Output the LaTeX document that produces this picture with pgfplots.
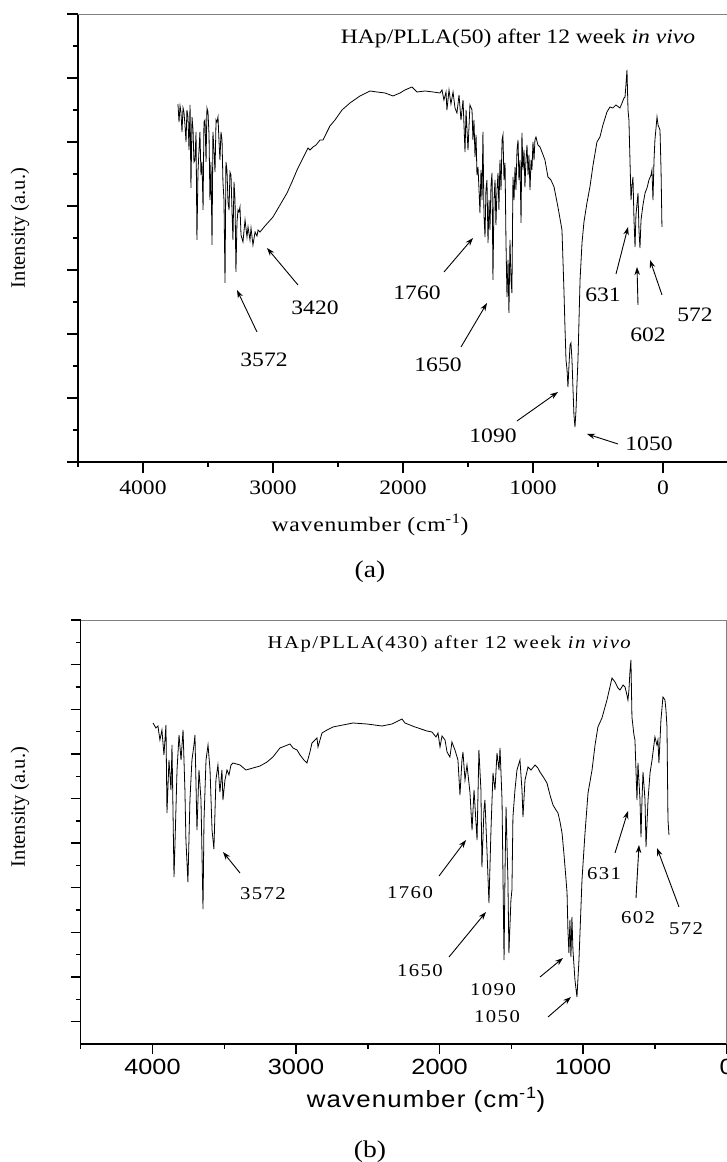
\documentclass[border=0pt]{standalone}
\usepackage{fontspec}
\setmainfont{Liberation Serif}
\usepackage{pgfplots}
\pgfplotsset{compat=1.18}
\usetikzlibrary{arrows.meta}
\newfontfamily\serifA[FakeStretch=1.15]{Liberation Serif}
\newfontfamily\serifAsp[FakeStretch=1.15,LetterSpace=4]{Liberation Serif}
\newfontfamily\serifB[FakeStretch=1.15,LetterSpace=8]{Liberation Serif}
\newfontfamily\sansB[FakeStretch=1.15]{Liberation Sans}
\newfontfamily\sansBsp[FakeStretch=1.1,LetterSpace=5]{Liberation Sans}
\newcommand\fA{\serifA\fontsize{20.5}{24}\selectfont}
\newcommand\fB{\serifB\fontsize{18}{21}\selectfont}
\begin{document}
\begin{tikzpicture}[x=1pt,y=1pt]
\useasboundingbox (0,0) rectangle (727,1162);
% ---------------- panel (a)
\begin{axis}[at={(78pt,700pt)}, anchor=south west, scale only axis,
  width=650pt, height=448pt, xmin=-500, xmax=4500, x dir=reverse,
  ymin=0, ymax=448, axis x line*=bottom, axis y line*=left, clip=false,
  axis line style={line width=1.6pt, black},
  xtick={0,1000,2000,3000,4000}, xticklabels={0,1000,2000,3000,4000},
  minor xtick={-500,500,1500,2500,3500,4500},
  ytick={0,64,128,192,256,320,384,448}, yticklabels={},
  minor ytick={32,96,160,224,288,352,416},
  tick align=outside, tick style={line width=1.4pt, black},
  major tick length=11pt, minor tick length=5pt,
  xticklabel style={font=\fA, yshift=-4pt}]
\addplot[black, line width=0.8pt] table {
3731 358
3723 340
3715 356
3708 350
3700 330
3692 354
3685 350
3677 337
3669 320
3662 352
3654 345
3646 312
3638 357
3631 274
3623 345
3615 332
3608 300
3600 302
3592 330
3585 222
3577 290
3569 312
3562 330
3554 287
3546 300
3538 252
3531 340
3523 342
3515 300
3508 354
3500 350
3492 327
3485 262
3477 300
3469 217
3462 330
3454 312
3446 290
3438 342
3431 340
3423 345
3415 320
3408 302
3400 330
3392 322
3385 280
3377 262
3369 179
3362 300
3354 292
3346 260
3338 252
3331 290
3323 287
3315 250
3308 222
3300 280
3292 262
3285 190
3277 240
3269 252
3262 250
3254 255
3246 227
3231 220
3215 242
3200 225
3192 235
3177 222
3169 234
3154 217
3138 230
3123 226
3115 232
3100 230
3062 236
3000 245
2946 257
2892 269
2854 280
2815 292
2777 302
2731 314
2715 312
2692 315
2669 317
2638 322
2615 322
2600 326
2585 330
2562 336
2523 342
2469 352
2408 359
2331 366
2254 371
2200 370
2138 369
2077 366
2023 369
1985 372
1931 375
1908 372
1892 370
1831 371
1769 370
1715 369
1700 372
1685 362
1669 370
1662 352
1646 372
1631 358
1615 370
1600 354
1585 349
1569 367
1554 342
1538 362
1523 310
1515 352
1500 312
1485 357
1469 352
1462 322
1454 342
1446 305
1438 327
1431 287
1423 295
1415 272
1408 249
1400 292
1392 262
1385 330
1377 247
1369 225
1362 272
1354 282
1346 219
1338 262
1331 232
1323 277
1315 289
1308 182
1300 262
1292 282
1285 237
1277 272
1269 289
1262 252
1254 302
1246 272
1238 322
1231 327
1223 282
1215 299
1208 222
1200 165
1192 202
1185 149
1177 222
1169 182
1162 169
1154 285
1146 262
1138 295
1131 272
1123 312
1115 322
1108 282
1100 302
1092 239
1085 329
1077 292
1069 312
1062 275
1054 302
1046 317
1038 287
1031 307
1023 272
1015 302
1008 292
1000 320
992 302
985 322
977 325
962 317
946 315
931 310
908 302
885 285
862 282
838 275
808 255
777 232
762 172
754 135
746 102
738 92
731 75
723 97
715 117
708 119
700 102
692 72
685 47
677 35
669 52
662 77
654 102
646 142
638 182
623 219
608 240
585 259
562 275
538 297
508 320
485 325
462 337
431 350
408 355
385 354
362 357
331 354
315 359
300 364
292 365
285 377
277 392
269 352
262 342
254 302
246 262
238 277
231 285
223 242
215 215
208 247
192 269
185 232
177 214
169 242
154 257
138 269
123 274
108 282
92 287
85 292
77 262
69 302
62 322
46 345
38 337
23 332
15 292
8 235
};
\draw[gray, line width=0.8pt] (rel axis cs:0,1) -- (rel axis cs:1,1);
\end{axis}
% ---------------- panel (b)
\begin{axis}[at={(80.7pt,118pt)}, anchor=south west, scale only axis,
  width=646pt, height=424pt, xmin=0, xmax=4500, x dir=reverse,
  ymin=0, ymax=424, axis x line*=bottom, axis y line*=left, clip=false,
  axis line style={line width=1.6pt, black},
  xtick={0,1000,2000,3000,4000}, xticklabels={0,1000,2000,3000,4000},
  minor xtick={500,1500,2500,3500,4500},
  ytick={424,379.37,334.74,290.11,245.47,200.84,156.21,111.58,66.95,22.32}, yticklabels={},
  minor ytick={401.68,357.05,312.42,267.79,223.16,178.53,133.89,89.26,44.63},
  tick align=outside, tick style={line width=1.4pt, black},
  major tick length=10pt, minor tick length=5pt,
  xticklabel style={font=\sansB\fontsize{22}{26}\selectfont, yshift=-2pt}]
\addplot[black, line width=0.8pt] table {
3996 321
3976 316
3962 318
3948 304
3934 314
3920 289
3906 319
3899 231
3885 284
3871 254
3864 299
3850 167
3843 201
3829 274
3815 309
3801 284
3787 314
3774 254
3767 204
3753 162
3739 244
3725 284
3711 299
3704 309
3690 214
3676 274
3662 244
3648 135
3641 224
3627 284
3613 299
3599 274
3585 214
3572 195
3558 264
3544 279
3530 252
3516 274
3509 244
3495 264
3481 274
3467 269
3453 279
3439 281
3390 279
3349 274
3300 276
3251 278
3202 282
3161 287
3112 296
3077 298
3042 300
3021 296
2993 294
2972 289
2945 284
2924 281
2903 292
2889 301
2868 304
2854 306
2847 297
2833 304
2819 311
2784 314
2743 317
2673 319
2603 321
2506 320
2401 318
2332 320
2276 324
2262 325
2241 321
2171 317
2088 313
2053 312
2025 307
2011 311
1997 297
1983 308
1962 304
1948 292
1928 287
1914 302
1893 294
1872 284
1858 249
1844 284
1837 292
1823 264
1809 279
1788 251
1774 214
1760 254
1739 204
1726 294
1712 254
1705 177
1691 234
1684 244
1670 194
1656 141
1642 214
1628 271
1614 254
1600 291
1586 274
1579 296
1565 244
1551 84
1544 174
1537 237
1524 164
1517 91
1503 144
1496 154
1489 227
1475 254
1461 274
1440 284
1426 254
1419 227
1405 264
1384 277
1363 274
1335 279
1315 276
1301 272
1273 266
1252 261
1231 249
1210 239
1189 234
1175 231
1161 222
1147 211
1133 189
1119 164
1112 151
1106 114
1099 91
1092 124
1085 87
1078 127
1071 94
1057 64
1043 47
1029 84
1022 111
1008 164
987 211
966 251
938 274
917 299
897 317
869 326
834 344
799 366
778 362
757 356
743 354
722 359
708 357
695 349
688 344
681 354
674 372
667 384
660 327
646 309
639 304
632 274
625 244
618 281
604 244
597 207
590 244
583 272
569 244
562 197
548 244
534 271
520 284
500 307
486 299
479 304
472 281
458 324
444 347
430 344
423 334
416 317
409 224
402 209
};
\draw[gray, line width=0.8pt] (rel axis cs:0,1) -- (rel axis cs:1,1) -- (rel axis cs:1,0);
\end{axis}
% ---------------- annotations (pixel coordinates, y downward)
\begin{scope}[x=1pt, y=-1pt, yshift=1162pt, >={Stealth[length=8pt,width=5.5pt]}]
\tikzset{arr/.style={->, line width=0.9pt, black}}
% panel (a)
\node[font=\fA] at (518,38) {HAp/PLLA(50) after 12 week \textit{in vivo}};
\node[font=\fA] at (315,308) {3420};
\draw[arr] (298,285) -- (267,248);
\node[font=\fA] at (264,360) {3572};
\draw[arr] (257,332) -- (237,290);
\node[font=\fA] at (417,293) {1760};
\draw[arr] (444,272) -- (473,238);
\node[font=\fA] at (438,365) {1650};
\draw[arr] (461,347) -- (487,303);
\node[font=\fA] at (493,436) {1090};
\draw[arr] (517,421) -- (558,392);
\node[font=\fA] at (649,444) {1050};
\draw[arr] (618,444) -- (587,434);
\node[font=\fA] at (603,295) {631};
\draw[arr] (616,274) -- (628,227);
\node[font=\fA] at (648,335) {602};
\draw[arr] (638,305) -- (637,267);
\node[font=\fA] at (695,315) {572};
\draw[arr] (662,295) -- (650,260);
\node[font=\serifAsp\fontsize{20.5}{24}\selectfont] at (370,525) {wavenumber (cm\textsuperscript{-1})};
\node[font=\serifA\fontsize{24}{28}\selectfont] at (370,572) {(a)};
\node[font=\fontsize{20.5}{24}\selectfont, rotate=90] at (20,228) {Intensity (a.u.)};
% panel (b)
\node[font=\fB] at (450,644) {HAp/PLLA(430) after 12 week \textit{in vivo}};
\node[font=\fB] at (263,894) {3572};
\draw[arr] (240,873) -- (223,852);
\node[font=\fB] at (410,893) {1760};
\draw[arr] (439,876) -- (466,840);
\node[font=\fB] at (420,971) {1650};
\draw[arr] (449,957) -- (486,912);
\node[font=\fB] at (493,990) {1090};
\draw[arr] (540,977) -- (563,958);
\node[font=\fB] at (497,1017) {1050};
\draw[arr] (548,1017) -- (571,997);
\node[font=\fB] at (604,874) {631};
\draw[arr] (615,853) -- (628,811);
\node[font=\fB] at (638,918) {602};
\draw[arr] (636,898) -- (639,845);
\node[font=\fB] at (686,929) {572};
\draw[arr] (679,907) -- (657,848);
\node[font=\sansBsp\fontsize{23.5}{28}\selectfont] at (426,1100) {wavenumber (cm\textsuperscript{-1})};
\node[font=\serifA\fontsize{24}{28}\selectfont] at (370,1152) {(b)};
\node[font=\fontsize{20.5}{24}\selectfont, rotate=90] at (20,807) {Intensity (a.u.)};
\end{scope}
\end{tikzpicture}
\end{document}
